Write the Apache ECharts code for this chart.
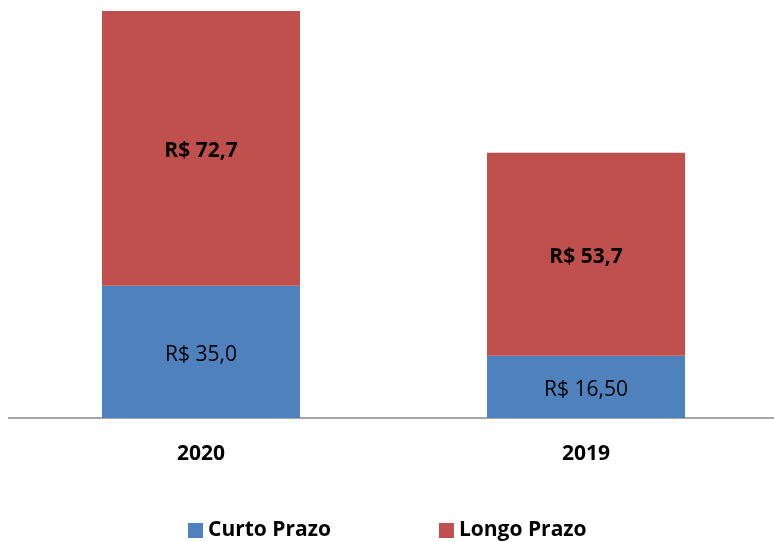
<!DOCTYPE html>
<html>
<head>
    <meta charset="utf-8">
    <script src="https://cdn.jsdelivr.net/npm/echarts@6/dist/echarts.min.js"></script>
    <style>
        html, body { margin: 0; padding: 0; background: #fff; overflow: hidden; }
    </style>
</head>
<body>
    <div id="main" style="width: 780px;height:542px"></div>

    <script type="text/javascript">
        var anos = ['2020', '2019'];
        var curtoPrazo = [35.0, 16.50];
        var longoPrazo = [72.7, 53.7];
        var curtoLabels = ['R$ 35,0', 'R$ 16,50'];
        var longoLabels = ['R$ 72,7', 'R$ 53,7'];

        var fonte = '"Open Sans", "Liberation Sans", sans-serif';

        var myChart = echarts.init(document.getElementById('main'));
        var option = {
            animation: false,
            grid: {
                left: 8.5,
                right: 1.5,
                top: 11,
                bottom: 124
            },
            legend: {
                data: ['Curto Prazo', 'Longo Prazo'],
                top: 515,
                left: 183,
                itemWidth: 15,
                itemHeight: 15,
                itemGap: 108,
                icon: 'rect',
                textStyle: { fontFamily: fonte, fontSize: 21, fontWeight: 'bold', color: '#000' }
            },
            xAxis: {
                type: 'category',
                data: anos,
                axisLine: { lineStyle: { color: '#898989', width: 1.5 } },
                axisTick: { show: false },
                axisLabel: {
                    margin: 26,
                    fontFamily: fonte,
                    fontSize: 21,
                    fontWeight: 'bold',
                    color: '#000'
                }
            },
            yAxis: {
                type: 'value',
                min: 0,
                max: 107.7,
                show: false,
                splitLine: { show: false }
            },
            series: [{
                name: 'Curto Prazo',
                type: 'bar',
                stack: 'total',
                barWidth: 198,
                itemStyle: { color: '#4F81BD' },
                label: {
                    show: true,
                    position: 'inside',
                    offset: [0, 3],
                    fontFamily: fonte,
                    fontSize: 21,
                    color: '#000',
                    formatter: function (p) { return curtoLabels[p.dataIndex]; }
                },
                data: curtoPrazo
            }, {
                name: 'Longo Prazo',
                type: 'bar',
                stack: 'total',
                barWidth: 198,
                itemStyle: { color: '#C0504D' },
                label: {
                    show: true,
                    position: 'inside',
                    offset: [0, 3],
                    fontFamily: fonte,
                    fontSize: 21,
                    fontWeight: 'bold',
                    color: '#000',
                    formatter: function (p) { return longoLabels[p.dataIndex]; }
                },
                data: longoPrazo
            }]
        };

        myChart.setOption(option);
    </script>
</body>
</html>
